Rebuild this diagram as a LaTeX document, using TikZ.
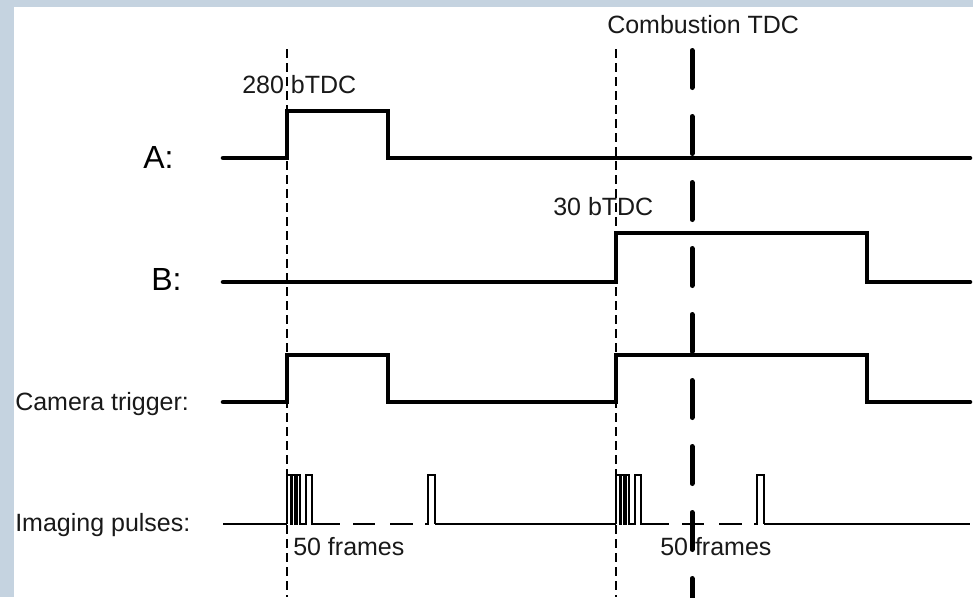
\documentclass[tikz,border=0pt]{standalone}
\usepackage{fontspec}
\setmainfont{Liberation Sans}
\definecolor{frameblue}{HTML}{C5D3E0}
\tikzset{
  sig/.style={line width=3.4pt, line cap=round, line join=miter},
  pulseline/.style={line width=1.7pt, line join=miter},
  guide/.style={line width=0.8pt, dash pattern=on 6.75pt off 3.75pt},
  tdcline/.style={line width=3.75pt, line cap=round, dash pattern=on 27.75pt off 21.75pt},
  lbl/.style={anchor=base west, inner sep=0pt, font=\fontsize{18.75pt}{20pt}\selectfont, text=black!90},
  biglbl/.style={anchor=base west, inner sep=0pt, font=\fontsize{24pt}{26pt}\selectfont, text=black},
  pulsetrain/.pic={
    \draw[pulseline] (0,0) -- (0,-49) -- (4,-49) -- (4,0) -- (5,0) -- (5,-49) -- (8,-49) -- (8,0)
      -- (9.5,0) -- (9.5,-49) -- (13,-49) -- (13,0) -- (19,0) -- (19,-49) -- (25,-49) -- (25,0) -- (53,0);
    \draw[pulseline] (66,0) -- (88,0);
    \draw[pulseline] (103,0) -- (126,0);
    \draw[pulseline] (138,0) -- (141,0) -- (141,-49) -- (148,-49) -- (148,0);
  }
}
\begin{document}
\begin{tikzpicture}[x=0.75pt,y=-0.75pt]
\useasboundingbox (0,0) rectangle (973,597);
\fill[frameblue] (0,0) rectangle (973,597);
\fill[white] (14,7) rectangle (973,597);

% guide lines
\coordinate (g1top) at (287,49);
\coordinate (g1bot) at (287,597);
\coordinate (g2top) at (616,49);
\coordinate (g2bot) at (616,597);
\draw[guide] (g1top) -- (g1bot);
\draw[guide] (g2top) -- (g2bot);

% signals
\draw[sig] (223,158) -- (287,158) -- (287,111) -- (388,111) -- (388,158) -- (970,158);
\draw[sig] (223,282) -- (616,282) -- (616,233) -- (867,233) -- (867,282) -- (970,282);
\draw[sig] (223,402) -- (287,402) -- (287,355) -- (388,355) -- (388,402) -- (616,402)
  -- (616,355) -- (867,355) -- (867,402) -- (970,402);

% imaging pulses
\draw[pulseline] (223,524) -- (287,524);
\pic at (287,524) {pulsetrain};
\draw[pulseline] (435,524) -- (616,524);
\pic at (616,524) {pulsetrain};
\draw[pulseline] (764,524) -- (970,524);

% combustion TDC
\coordinate (tdctop) at (692,50.5);
\coordinate (tdcbot) at (692,600);
\draw[tdcline] (tdctop) -- (tdcbot);

% labels
\node[lbl] (comb) at (607,33) {Combustion TDC};
\node[lbl] (t280) at (242,93) {280 bTDC};
\node[lbl] (t30) at (553,215) {30 bTDC};
\node[biglbl] (la) at (143,168) {A:};
\node[biglbl] (lb) at (151,290) {B:};
\node[lbl] (lcam) at (15,410) {Camera trigger:};
\node[lbl] (limg) at (15,531) {Imaging pulses:};
\node[lbl] (f1) at (293,555) {50 frames};
\node[lbl] (f2) at (660,555) {50 frames};
\end{tikzpicture}
\end{document}
